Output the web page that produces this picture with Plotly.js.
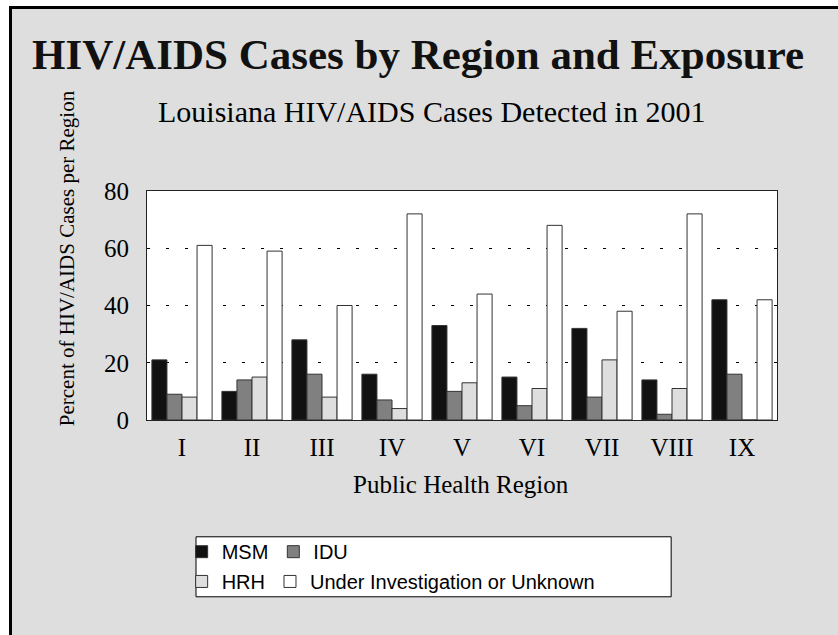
<!DOCTYPE html>
<html><head><meta charset="utf-8">
<script src="https://cdn.plot.ly/plotly-3.0.1.min.js"></script>
<style>
html,body{margin:0;padding:0;background:#fff;}
#bg{position:absolute;left:9px;top:6px;width:826px;height:626px;background:#dedede;border-top:3px solid #000;border-left:3px solid #000;}
#chart{position:absolute;left:0;top:0;width:838px;height:635px;}
</style></head>
<body>
<div id="bg"></div>
<div id="chart"></div>
<script>
const regions = ["I","II","III","IV","V","VI","VII","VIII","IX"];
const msm = [21,10,28,16,33,15,32,14,42];
const idu = [9,14,16,7,10,5,8,2,16];
const hrh = [8,15,8,4,13,11,21,11,0];
const unk = [61,59,40,72,44,68,38,72,42];
const seriesNames = ["MSM","IDU","HRH","Under Investigation or Unknown"];
const yTicks = [0,20,40,60,80];

const colors = ["#111111","#808080","#dedede","#ffffff"];
const vals = [msm,idu,hrh,unk];
const legendIds = ["legend","legend","legend2","legend2"];
const traces = vals.map((v,i)=>({
  type:"bar", x:regions, y:v, name:seriesNames[i],
  marker:{color:colors[i], line:{color:"#333333", width:1}},
  legend:legendIds[i], hoverinfo:"x+y+name"
}));

const serif = "Liberation Serif, Times New Roman, serif";
const sans = "Liberation Sans, Arial, sans-serif";
const legendCommon = {
  orientation:"h", bgcolor:"rgba(0,0,0,0)", borderwidth:0,
  font:{family:sans, size:20, color:"#000"},
  itemwidth:30,
  xanchor:"left", yanchor:"middle", traceorder:"normal"
};

const layout = {
  width:838, height:635,
  paper_bgcolor:"rgba(0,0,0,0)", plot_bgcolor:"#ffffff",
  margin:{l:147, r:61, t:191, b:215},
  barmode:"group", bargap:0.14, bargroupgap:0,
  showlegend:true,
  legend:Object.assign({}, legendCommon, {x:0.055, y:-0.575}),
  legend2:Object.assign({}, legendCommon, {x:0.055, y:-0.705}),
  xaxis:{
    showgrid:false, showline:true, linecolor:"#222", linewidth:1, mirror:true,
    ticks:"", tickfont:{family:serif, size:25, color:"#000"}, ticklabelstandoff:5
  },
  yaxis:{
    range:[0,80], tickvals:yTicks, ticks:"",
    showline:true, linecolor:"#222", linewidth:1, mirror:true,
    gridcolor:"#000", gridwidth:1, griddash:"3px,16px",
    zeroline:false,
    tickfont:{family:serif, size:25, color:"#000"}, ticklabelstandoff:12
  },
  shapes:[{
    type:"rect", xref:"paper", yref:"paper",
    x0:0.0778, x1:0.832, y0:-0.772, y1:-0.510,
    line:{color:"#000", width:1}, fillcolor:"#ffffff", layer:"below"
  }],
  annotations:[
    {text:"<b>HIV/AIDS Cases by Region and Exposure</b>", xref:"paper", yref:"paper",
     x:0.430, y:1.595, xanchor:"center", yanchor:"middle", showarrow:false,
     font:{family:serif, size:43, color:"#111"}},
    {text:"Louisiana HIV/AIDS Cases Detected in 2001", xref:"paper", yref:"paper",
     x:0.451, y:1.345, xanchor:"center", yanchor:"middle", showarrow:false,
     font:{family:serif, size:30, color:"#000"}},
    {text:"Percent of HIV/AIDS Cases per Region", xref:"paper", yref:"paper",
     x:-0.127, y:0.7065, xanchor:"center", yanchor:"middle", textangle:-90, showarrow:false,
     font:{family:serif, size:21, color:"#000"}},
    {text:"Public Health Region", xref:"paper", yref:"paper",
     x:0.498, y:-0.283, xanchor:"center", yanchor:"middle", showarrow:false,
     font:{family:serif, size:25, color:"#000"}}
  ]
};
Plotly.newPlot("chart", traces, layout, {displayModeBar:false, staticPlot:true});
</script>
</body></html>
